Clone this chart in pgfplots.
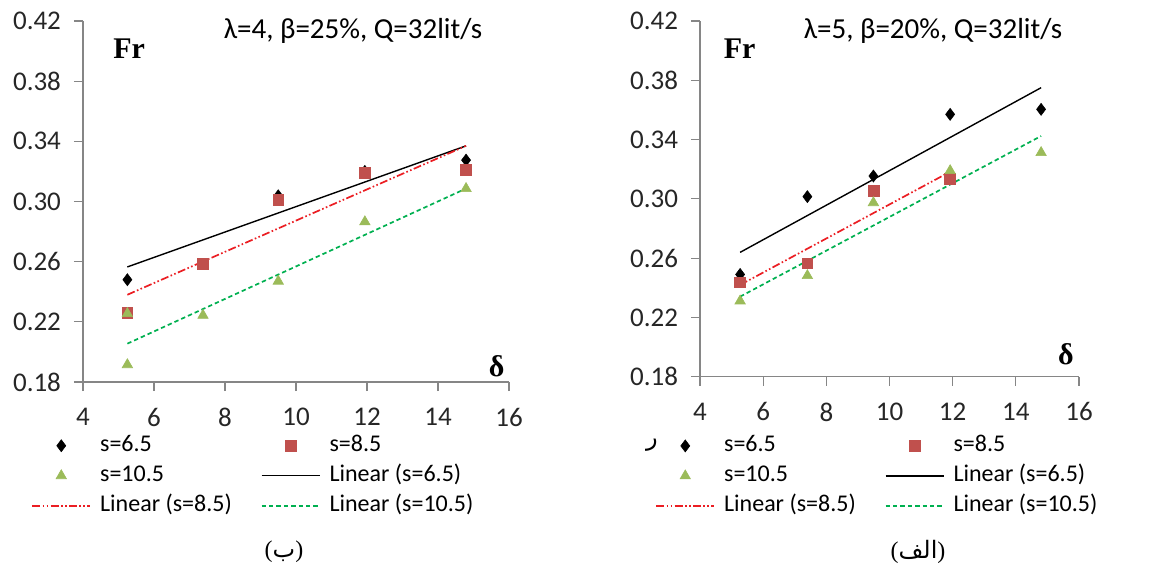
\documentclass[border=0pt]{standalone}
\usepackage{fontspec}
\setmainfont{Carlito}
\newfontfamily\serifb{Liberation Serif}
\newfontfamily\arabicfont[Script=Arabic]{DejaVu Sans}
\usepackage{pgfplots}
\pgfplotsset{compat=1.18}
\TeXXeTstate=1

\definecolor{cRed}{RGB}{192,80,77}
\definecolor{cGreen}{RGB}{155,187,89}
\definecolor{lRed}{RGB}{235,30,35}
\definecolor{lGreen}{RGB}{0,176,80}
\definecolor{axgray}{RGB}{134,134,134}

\pgfplotsset{
  mychart/.style={
    scale only axis,
    axis lines*=left,
    axis line style={-,draw=axgray,line width=0.6pt},
    tick style={draw=axgray,line width=0.6pt},
    tick align=outside,
    major tick length=4.5pt,
    xmin=4,xmax=16,ymin=0.18,ymax=0.42,
    xtick={4,6,8,10,12,14,16},
    ytick={0.18,0.22,0.26,0.30,0.34,0.38,0.42},
    /pgf/number format/assume math mode=true,
    yticklabel style={/pgf/number format/fixed,/pgf/number format/fixed zerofill,/pgf/number format/precision=2,xshift=-3pt},
    xticklabel style={yshift=-5pt},
    ticklabel style={font=\fontsize{13.5}{15}\selectfont,text=black!85},
    clip=false,
    legend columns=2,
    legend cell align=left,
    legend image code/.code={\draw[mark repeat=2,mark phase=2,##1] plot coordinates {(0pt,0pt) (14.5pt,0pt) (29pt,0pt)};},
    legend style={draw=none,fill=none,anchor=north west,inner sep=0pt,
      font=\fontsize{12}{14}\selectfont,
      row sep=4pt,
      nodes={inner sep=0pt,text height=8.5pt,text depth=2.5pt},
      /tikz/every odd column/.append style={column sep=4.5pt},
      /tikz/every even column/.append style={column sep=14.5pt}},
  },
  s65/.style={only marks,mark=diamond*,mark size=3pt,color=black,mark options={solid,line width=0.3pt}},
  s85/.style={only marks,mark=square*,mark size=2.7pt,color=cRed,mark options={solid,line width=0.3pt}},
  s105/.style={only marks,mark=triangle*,mark size=3pt,color=cGreen,mark options={solid,line width=0.3pt}},
  l65/.style={no marks,draw=black,line width=0.7pt},
  l85/.style={no marks,draw=lRed,color=lRed,line width=0.85pt,dash pattern=on 4pt off 1.2pt on 0.8pt off 1.2pt on 0.8pt off 1.2pt},
  l105/.style={no marks,draw=lGreen,color=lGreen,line width=0.85pt,dash pattern=on 2.2pt off 1.5pt},
}

\begin{document}
\begin{tikzpicture}
\useasboundingbox (0,0) rectangle (583pt,283.5pt);

% ---------------- left chart (b) ----------------
\begin{axis}[mychart,at={(41.5pt,92.5pt)},anchor=south west,width=213pt,height=180.5pt,
  legend style={at={(-0.122,-0.145)}}]
\addplot[s65] coordinates {(5.25,0.248) (9.5,0.3038) (11.94,0.320) (14.79,0.3275)};
\addplot[s85] coordinates {(5.25,0.226) (7.38,0.2587) (9.5,0.3009) (11.94,0.319) (14.79,0.3213)};
\addplot[s105] coordinates {(5.25,0.2255) (5.25,0.1915) (7.38,0.2243) (9.5,0.247) (11.94,0.2865) (14.79,0.3086)};
\addplot[l65] coordinates {(5.25,0.2565) (14.79,0.337)};
\addplot[l85] coordinates {(5.25,0.238) (14.79,0.337)};
\addplot[l105] coordinates {(5.25,0.2055) (14.79,0.3086)};
\legend{s=6.5,s=8.5,s=10.5,Linear (s=6.5),Linear (s=8.5),Linear (s=10.5)}
\end{axis}

% ---------------- right chart (alef) ----------------
\begin{axis}[mychart,at={(350pt,95.15pt)},anchor=south west,width=189.5pt,height=177.85pt,
  legend style={at={(-0.1187,-0.1625)}}]
\addplot[s65] coordinates {(5.27,0.249) (7.40,0.3015) (9.49,0.3154) (11.92,0.357) (14.80,0.3604)};
\addplot[s85] coordinates {(5.27,0.2437) (7.40,0.2565) (9.49,0.3053) (11.92,0.3134)};
\addplot[s105] coordinates {(5.27,0.2311) (7.40,0.2482) (9.49,0.2974) (11.92,0.319) (14.80,0.3312)};
\addplot[l65] coordinates {(5.27,0.2639) (14.80,0.375)};
\addplot[l85] coordinates {(5.27,0.2419) (11.92,0.3183)};
\addplot[l105] coordinates {(5.27,0.234) (14.80,0.3424)};
\legend{s=6.5,s=8.5,s=10.5,Linear (s=6.5),Linear (s=8.5),Linear (s=10.5)}
\end{axis}

% titles and axis names
\node[anchor=base,font=\fontsize{14.5}{17}\selectfont] at (176.5pt,264.25pt) {λ=4, β=25\%, Q=32lit/s};
\node[anchor=base,font=\fontsize{14.5}{17}\selectfont] at (466.5pt,264.25pt) {λ=5, β=20\%, Q=32lit/s};
\node[anchor=base west,inner sep=0pt,font=\serifb\bfseries\fontsize{15}{17}\selectfont] at (56.5pt,254.3pt) {Fr};
\node[anchor=base west,inner sep=0pt,font=\serifb\bfseries\fontsize{15}{17}\selectfont] at (361.7pt,254.3pt) {Fr};
\node[anchor=base,inner sep=0pt,font=\serifb\bfseries\fontsize{15}{17}\selectfont] at (248.3pt,95.2pt) {δ};
\node[anchor=base,inner sep=0pt,font=\serifb\bfseries\fontsize{15}{17}\selectfont] at (533pt,101pt) {δ};

% panel labels
\node[inner sep=0pt,font=\serifb\fontsize{12}{14}\selectfont] at (142pt,7.5pt) {({\arabicfont\beginR ب\endR})};
\node[inner sep=0pt,font=\serifb\fontsize{12}{14}\selectfont] at (459pt,7.5pt) {({\arabicfont\beginR الف\endR})};
\node[inner sep=0pt,font=\arabicfont\fontsize{12}{14}\selectfont] at (326pt,61pt) {\beginR ر\endR};
\end{tikzpicture}
\end{document}
